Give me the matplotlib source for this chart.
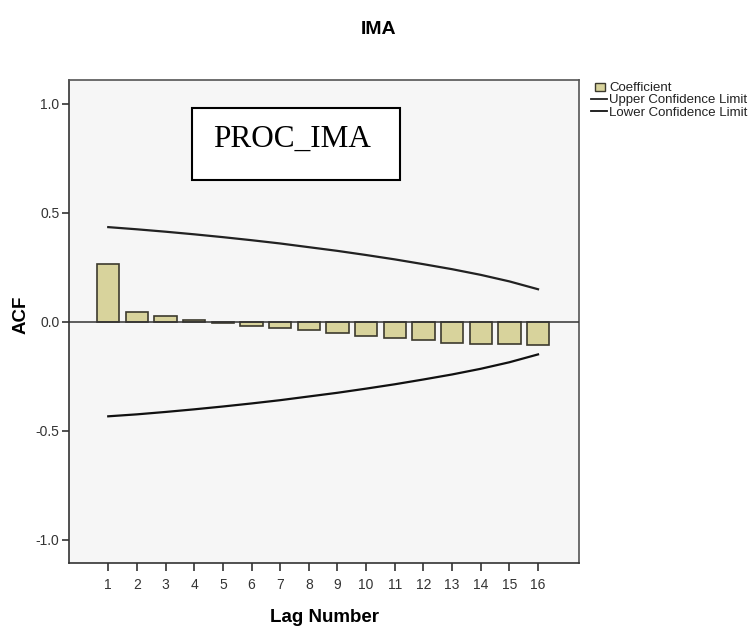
import matplotlib
matplotlib.use("Agg")
import matplotlib.pyplot as plt
from matplotlib.patches import Rectangle
from matplotlib.lines import Line2D
from matplotlib.legend_handler import HandlerPatch

lags = list(range(1, 17))
acf = [0.265, 0.047, 0.025, 0.008, -0.004, -0.018, -0.027, -0.038,
       -0.051, -0.064, -0.074, -0.084, -0.095, -0.099, -0.103, -0.104]
upper = [0.435, 0.425, 0.414, 0.402, 0.389, 0.375, 0.360, 0.343,
         0.326, 0.307, 0.287, 0.265, 0.242, 0.216, 0.186, 0.150]
lower = [-0.433, -0.424, -0.413, -0.401, -0.388, -0.374, -0.359, -0.342,
         -0.325, -0.306, -0.286, -0.264, -0.241, -0.215, -0.185, -0.149]
yticks = [-1.0, -0.5, 0.0, 0.5, 1.0]
title = "IMA"
box_label = "PROC_IMA"

plt.rcParams['font.family'] = ['Liberation Sans', 'DejaVu Sans']

W, H = 755, 626
fig = plt.figure(figsize=(W / 100, H / 100), dpi=100)
fig.patch.set_facecolor('white')
ax = fig.add_axes([69 / W, 1 - 563 / H, (579 - 69) / W, (563 - 80) / H])
ax.set_facecolor('#f6f6f6')

bar_color = '#d8d39c'
edge_color = '#3c3a2e'
ax.bar(lags, acf, width=0.78, color=bar_color, edgecolor=edge_color,
       linewidth=1.2, zorder=2)
ax.axhline(0, color='#333333', linewidth=1.1, zorder=3)
l1, = ax.plot(lags, upper, color='#222222', linewidth=1.6, zorder=4,
              label='Upper Confidence Limit')
l2, = ax.plot(lags, lower, color='#111111', linewidth=1.6, zorder=4,
              label='Lower Confidence Limit')

ax.set_xlim(-0.37, 17.43)
ax.set_ylim(-1.106, 1.11)
ax.set_xticks(lags)
ax.set_xticklabels([str(k) for k in lags], fontsize=10, color='#333333')
ax.set_yticks(yticks)
ax.set_yticklabels([f"{v:.1f}" for v in yticks], fontsize=10, color='#333333')
ax.tick_params(axis='x', direction='out', length=6, width=1.2, color='#333333', pad=5)
ax.tick_params(axis='y', direction='out', length=5, width=1.2, color='#333333', pad=2)
for side, sp in ax.spines.items():
    sp.set_color('#555555')
    sp.set_linewidth(1.2)
ax.spines['left'].set_color('#333333')
ax.spines['bottom'].set_color('#333333')

ax.set_ylabel('ACF', fontsize=13.5, fontweight='bold', labelpad=4)
ax.yaxis.set_label_coords((30 - 69) / 510, (563 - 315) / 483)
ax.set_xlabel('Lag Number', fontsize=13.5, fontweight='bold', labelpad=12)

fig.text(379 / W, 1 - 29 / H, title, ha='center', va='center',
         fontsize=14, fontweight='bold')

# annotation box
x0 = (191.7 - 69) / 510
x1 = (400 - 69) / 510
y0 = (563 - 180) / 483
y1 = (563 - 108.3) / 483
ax.add_patch(Rectangle((x0, y0), x1 - x0, y1 - y0, transform=ax.transAxes,
                       facecolor='white', edgecolor='black', linewidth=1.5, zorder=5))
ax.text((212.7 - 69) / 510, (563 - 139) / 483, box_label, transform=ax.transAxes,
        ha='left', va='center', fontsize=22.5, family=['Liberation Serif', 'DejaVu Serif'],
        zorder=6)

coef_proxy = Rectangle((0, 0), 1, 1, facecolor=bar_color, edgecolor=edge_color,
                       linewidth=1.0, label='Coefficient')


def small_patch(legend, orig_handle, xdescent, ydescent, width, height, fontsize):
    pw, ph = 6.7, 5.6
    return Rectangle((-xdescent + (width - pw) / 2 + 0.5, -ydescent + (height - ph) / 2 - 0.5),
                     pw, ph)


leg = fig.legend(handles=[coef_proxy, l1, l2], loc='upper left',
                 bbox_to_anchor=(591 / W, 1 - 82 / H), frameon=False,
                 fontsize=9.5, handlelength=1.25, handletextpad=0.15,
                 labelspacing=0.0, borderaxespad=0, borderpad=0,
                 handler_map={coef_proxy: HandlerPatch(patch_func=small_patch)})
for ln in leg.get_lines():
    ln.set_linewidth(1.3)
for t in leg.get_texts():
    t.set_color('#222222')

fig.savefig('out.png', dpi=100, facecolor='white')
